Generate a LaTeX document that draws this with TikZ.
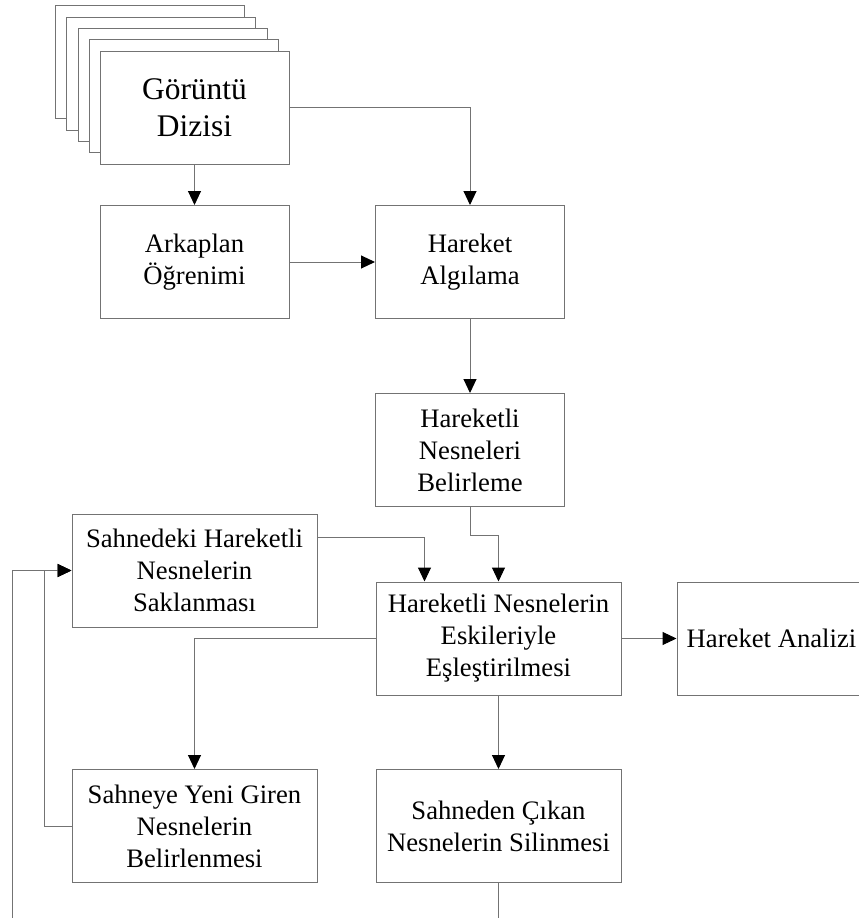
\documentclass[tikz,border=0pt]{standalone}
\usepackage{fontspec}
\setmainfont{Liberation Serif}
\usetikzlibrary{arrows.meta,calc}
\begin{document}
\begin{tikzpicture}[x=0.75pt,y=-0.75pt,
  box/.style={draw=black!55, line width=0.75pt, fill=white, align=center, inner sep=0pt,
              minimum height=113*0.75pt, font=\fontsize{20}{24}\selectfont},
  narrow/.style={box, minimum width=189*0.75pt},
  wide/.style={box, minimum width=245*0.75pt},
  conn/.style={draw=black!55, line width=0.75pt, -{Triangle[length=10.5pt,width=9.75pt,color=black]}},
  plain/.style={draw=black!55, line width=0.75pt}]
\clip (0,0) rectangle (859,918);
% stacked pages
\node[narrow] (p1) at (149.5,62) {};
\node[narrow] (p2) at (161,73.5) {};
\node[narrow] (p3) at (172.5,85) {};
\node[narrow] (p4) at (183.5,96) {};
\node[narrow, font=\fontsize{23.6}{27.75}\selectfont] (gd) at (194.5,107.5) {Görüntü\\Dizisi};
% boxes
\node[narrow] (ark) at (194.5,262) {Arkaplan\\Öğrenimi};
\node[narrow] (ha)  at (470,262) {Hareket\\Algılama};
\node[narrow] (hnb) at (470,450) {Hareketli\\Nesneleri\\Belirleme};
\node[wide]   (sak) at (194.5,570.5) {Sahnedeki Hareketli\\Nesnelerin\\Saklanması};
\node[wide]   (hne) at (498.5,638.5) {Hareketli Nesnelerin\\Eskileriyle\\Eşleştirilmesi};
\node[narrow] (han) at (771.5,638.5) {Hareket Analizi};
\node[wide]   (sye) at (194.5,826) {Sahneye Yeni Giren\\Nesnelerin\\Belirlenmesi};
\node[wide]   (sce) at (498.5,826) {Sahneden Çıkan\\Nesnelerin Silinmesi};
\coordinate (endc) at (498.5,918);
\coordinate (leftc) at (12,918);
% connectors
\draw[conn] (gd.south) -- (ark.north);
\draw[conn] (gd.east) -| (ha.north);
\draw[conn] (ark.east) -- (ha.west);
\draw[conn] (ha.south) -- (hnb.north);
\draw[conn] (hnb.south) -- ++(0,28) -| (hne.north);
\draw[conn] ($(sak.north east)+(0,24)$) -| ($(hne.north west)+(49,0)$);
\draw[conn] (hne.east) -- (han.west);
\draw[conn] (hne.west) -| (sye.north);
\draw[conn] (hne.south) -- (sce.north);
\draw[plain] (sce.south) -- (endc);
\draw[conn] (sye.west) -- ++(-27,0) |- (sak.west);
\draw[conn] (leftc) |- (sak.west);
\end{tikzpicture}
\end{document}
